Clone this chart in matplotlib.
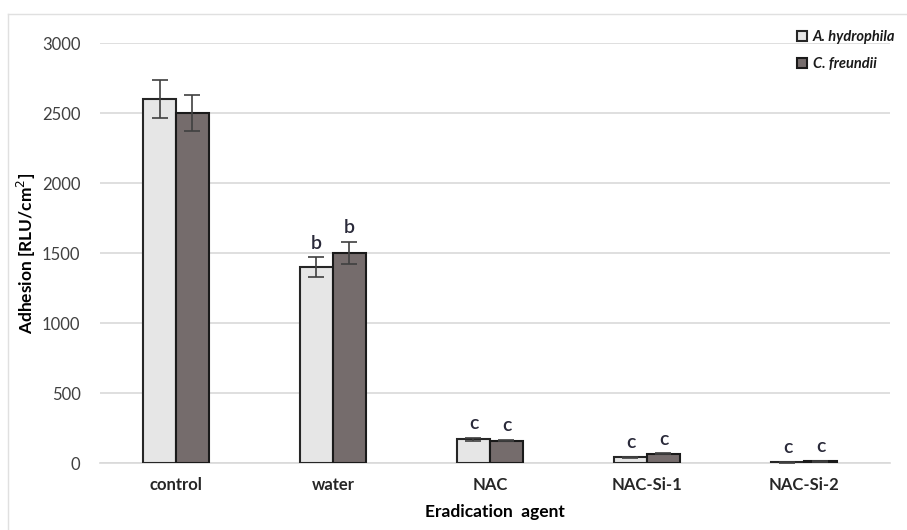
import matplotlib.pyplot as plt
from matplotlib.lines import Line2D
import numpy as np

agents = ['control', 'water', 'NAC', 'NAC-Si-1', 'NAC-Si-2']
hydrophila = [2600, 1400, 170, 40, 5]
hydrophila_err = [135, 70, 10, 4, 2]
freundii = [2500, 1500, 160, 65, 12]
freundii_err = [130, 80, 6, 4, 2]
letters_a = ['', 'b', 'c', 'c', 'c']
letters_c = ['', 'b', 'c', 'c', 'c']

plt.rcParams['font.family'] = ['Lato', 'DejaVu Sans']

fig = plt.figure(figsize=(9.07, 5.30), dpi=100)
ax = fig.add_axes([100 / 907, 1 - 463 / 530, 790 / 907, 420 / 530])

x = np.arange(len(agents))
w = 0.21
ax.bar(x - w / 2, hydrophila, w, color='#e6e6e6', edgecolor='#262626', linewidth=1.5,
       label='A. hydrophila', zorder=3)
ax.bar(x + w / 2, freundii, w, color='#756c6c', edgecolor='#1a1a1a', linewidth=1.5,
       label='C. freundii', zorder=3)
ax.errorbar(x - w / 2, hydrophila, yerr=hydrophila_err, fmt='none', ecolor='#404040',
            elinewidth=1.2, capsize=6, capthick=1.2, zorder=4)
ax.errorbar(x + w / 2, freundii, yerr=freundii_err, fmt='none', ecolor='#404040',
            elinewidth=1.2, capsize=6, capthick=1.2, zorder=4)

for i in range(len(agents)):
    if letters_a[i]:
        ax.text(x[i] - w / 2, hydrophila[i] + hydrophila_err[i] + 40, letters_a[i],
                ha='center', va='bottom', fontsize=14, fontweight='semibold', color='#2a2a3a')
    if letters_c[i]:
        ax.text(x[i] + w / 2, freundii[i] + freundii_err[i] + 40, letters_c[i],
                ha='center', va='bottom', fontsize=14, fontweight='semibold', color='#2a2a3a')

ax.set_ylim(0, 3000)
ax.set_xlim(-0.484, 4.548)
ax.set_yticks(range(0, 3001, 500))
ax.set_xticks(x)
ax.set_xticklabels(agents, fontweight='bold', fontsize=12, color='#262626')
ax.tick_params(axis='y', labelsize=12, labelcolor='#404040', length=0, pad=14)
ax.tick_params(axis='x', length=0, pad=10)
ax.grid(axis='y', color='#d9d9d9', linewidth=1.2, zorder=0)
for s in ['top', 'right', 'left']:
    ax.spines[s].set_visible(False)
ax.spines['bottom'].set_color('#d9d9d9')
ax.spines['bottom'].set_linewidth(1.2)

ax.set_xlabel('Eradication  agent', fontweight='bold', fontsize=12.5, labelpad=8)
ax.set_ylabel('Adhesion [RLU/cm$^2$]', fontweight='bold', fontsize=12.5)
ax.yaxis.set_label_coords(-62 / 790, 0.5)

leg = fig.legend(loc='upper left', bbox_to_anchor=(794 / 907, 1 - 27 / 530), frameon=False,
                 prop={'style': 'italic', 'weight': 'bold', 'size': 10.5},
                 handlelength=0.7, handleheight=0.7, handletextpad=0.4, labelspacing=0.9,
                 borderaxespad=0, borderpad=0.2)
for t in leg.get_texts():
    t.set_color('#1a1a1a')

# thin outer frame
fig.add_artist(Line2D([8 / 907, 1], [1 - 14 / 530, 1 - 14 / 530], color='#e0e0e0', lw=1))
fig.add_artist(Line2D([8 / 907, 8 / 907], [0, 1 - 14 / 530], color='#e0e0e0', lw=1))

fig.savefig('out.png', dpi=100)
